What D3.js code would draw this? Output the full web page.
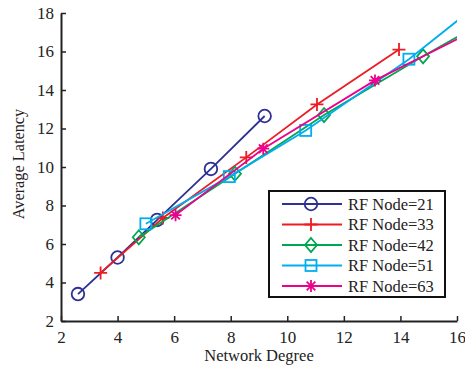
<!DOCTYPE html>
<html>
<head>
<meta charset="utf-8">
<script src="https://cdn.jsdelivr.net/npm/d3@7"></script>
<style>
  body { margin: 0; background: #fff; }
  text { font-family: "Liberation Serif", "Times New Roman", serif; fill: #222; }
</style>
</head>
<body>
<main></main>
<script>
// series values (x = network degree, y = average latency)
const node21 = [[2.6, 3.4], [4.0, 5.3], [5.4, 7.25], [7.3, 9.9], [9.2, 12.65]]
const node33 = [[3.4, 4.5], [5.6, 7.35], [8.55, 10.5], [11.05, 13.25], [13.95, 16.1]]
const node42 = [[4.75, 6.35], [8.15, 9.65], [11.3, 12.7], [14.8, 15.75], [17.5, 18.0]]
const node51 = [[5.0, 7.05], [7.95, 9.5], [10.65, 11.9], [14.3, 15.6], [17.6, 19.45]]
const node63 = [[6.05, 7.5], [9.15, 10.95], [13.1, 14.5], [17.5, 17.75]]
const seriesNames = ['RF Node=21', 'RF Node=33', 'RF Node=42', 'RF Node=51', 'RF Node=63']
const xTicks = [2, 4, 6, 8, 10, 12, 14, 16]
const yTicks = [2, 4, 6, 8, 10, 12, 14, 16, 18]

const series = [
  { name: seriesNames[0], data: node21, color: '#2e3192', marker: 'circle' },
  { name: seriesNames[1], data: node33, color: '#ed1c24', marker: 'plus' },
  { name: seriesNames[2], data: node42, color: '#00a651', marker: 'diamond' },
  { name: seriesNames[3], data: node51, color: '#00aeef', marker: 'square' },
  { name: seriesNames[4], data: node63, color: '#ec008c', marker: 'star' }
]

const W = 465
const H = 368
const margin = { left: 61, right: 8, top: 13, bottom: 47 }

const svg = d3.select('main')
  .append('svg')
  .attr('width', W)
  .attr('height', H)

const x = d3.scaleLinear().domain([2, 16]).range([margin.left, W - margin.right])
const y = d3.scaleLinear().domain([2, 18]).range([H - margin.bottom, margin.top])

svg.append('clipPath')
  .attr('id', 'plotClip')
  .append('rect')
  .attr('x', margin.left)
  .attr('y', margin.top)
  .attr('width', W - margin.right - margin.left)
  .attr('height', H - margin.bottom - margin.top)

// draws one marker symbol at 0,0
function drawMarker (g, kind, color) {
  if (kind === 'circle') {
    g.append('circle').attr('r', 6.3)
      .style('fill', 'none').style('stroke', color).style('stroke-width', 1.8)
  } else if (kind === 'square') {
    g.append('rect').attr('x', -5.5).attr('y', -5.5).attr('width', 11).attr('height', 11)
      .style('fill', 'none').style('stroke', color).style('stroke-width', 1.8)
  } else if (kind === 'diamond') {
    g.append('path').attr('d', 'M0,-7L6,0L0,7L-6,0Z')
      .style('fill', 'none').style('stroke', color).style('stroke-width', 1.8)
  } else if (kind === 'plus') {
    g.append('path').attr('d', 'M-6.5,0H6.5M0,-6.5V6.5')
      .style('stroke', color).style('stroke-width', 1.8)
  } else if (kind === 'star') {
    g.append('path').attr('d', 'M-6,0H6M0,-6V6M-4.3,-4.3L4.3,4.3M-4.3,4.3L4.3,-4.3')
      .style('stroke', color).style('stroke-width', 1.8)
  }
}

const plot = svg.append('g').attr('clip-path', 'url(#plotClip)')
const line = d3.line().x(d => x(d[0])).y(d => y(d[1]))

series.forEach(function (s) {
  plot.append('path')
    .datum(s.data)
    .attr('d', line)
    .style('fill', 'none')
    .style('stroke', s.color)
    .style('stroke-width', 1.8)
  s.data.forEach(function (d) {
    const m = plot.append('g').attr('transform', 'translate(' + x(d[0]) + ',' + y(d[1]) + ')')
    drawMarker(m, s.marker, s.color)
  })
})

// axes, ticks pointing inward
const xAxis = svg.append('g')
  .attr('transform', 'translate(0,' + (H - margin.bottom) + ')')
  .call(d3.axisBottom(x).tickValues(xTicks).tickSizeInner(-5).tickSizeOuter(0).tickPadding(10))
const yAxis = svg.append('g')
  .attr('transform', 'translate(' + margin.left + ',0)')
  .call(d3.axisLeft(y).tickValues(yTicks).tickSizeInner(-5).tickSizeOuter(0).tickPadding(7))

svg.selectAll('.domain').style('stroke', '#222').style('stroke-width', 2)
svg.selectAll('.tick line').style('stroke', '#222').style('stroke-width', 1.5)
svg.selectAll('.tick text')
  .style('font-family', '"Liberation Serif", serif')
  .style('font-size', '17px')
  .style('fill', '#222')
xAxis.selectAll('.tick text').attr('dy', '0.71em')

svg.append('text')
  .attr('x', 259)
  .attr('y', 361)
  .attr('text-anchor', 'middle')
  .style('font-size', '16.5px')
  .text('Network Degree')

svg.append('text')
  .attr('transform', 'translate(24,164) rotate(-90)')
  .attr('text-anchor', 'middle')
  .style('font-size', '16.3px')
  .text('Average Latency')

// legend
const legend = svg.append('g').attr('transform', 'translate(269,191)')
legend.append('rect')
  .attr('width', 176)
  .attr('height', 106)
  .style('fill', '#fff')
  .style('stroke', '#111')
  .style('stroke-width', 2)
series.forEach(function (s, i) {
  const row = legend.append('g').attr('transform', 'translate(0,' + (13 + i * 20.5) + ')')
  row.append('line')
    .attr('x1', 13).attr('x2', 73)
    .style('stroke', s.color).style('stroke-width', 1.8)
  drawMarker(row.append('g').attr('transform', 'translate(42,0)'), s.marker, s.color)
  row.append('text')
    .attr('x', 79)
    .attr('dy', '0.35em')
    .style('font-size', '16.5px')
    .text(s.name)
})
</script>
</body>
</html>
